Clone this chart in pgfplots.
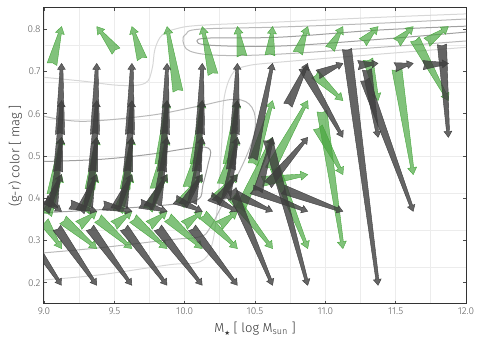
\documentclass[border=0pt]{standalone}
\usepackage{pgfplots}
\pgfplotsset{compat=1.18}
\usepackage{pgfplotstable}
\usepackage{fontspec}
\setmainfont{Fira Sans Light}
\newfontfamily\dejavu{DejaVu Sans}
\usetikzlibrary{decorations.markings}

\definecolor{arrgray}{RGB}{62,62,62}
\definecolor{arrgreen}{RGB}{70,165,60}
\definecolor{gridc}{RGB}{236,236,236}
\definecolor{ticklab}{RGB}{95,95,95}
\definecolor{ctA}{RGB}{160,160,160}
\definecolor{ctB}{RGB}{185,185,185}
\definecolor{ctC}{RGB}{215,215,215}

% tapered arrow: wide tail, thin neck, triangular head
\newcommand\wedgearrow[5]{%
  \pgfmathsetmacro\L{\pgfdecoratedpathlength}%
  \pgfmathsetmacro\H{min(#4,0.5*\L)}%
  \pgfmathsetmacro\N{\L-\H}%
  \fill[#5] (0pt,#1) -- (\N pt,#2) -- (\N pt,#3) -- (\L pt,0pt) -- (\N pt,-#3)
    -- (\N pt,-#2) -- (0pt,-#1) -- (1.5pt,0pt) -- cycle;%
}
\tikzset{
  graywedge/.style={draw=none, postaction={decorate, decoration={markings,
    mark=at position 0pt with {\wedgearrow{4.6pt}{1.5pt}{3.9pt}{6}{arrgray,fill opacity=0.8}}}}},
  greenwedge/.style={draw=none, postaction={decorate, decoration={markings,
    mark=at position 0pt with {\wedgearrow{5pt}{1.5pt}{4.5pt}{7}{arrgreen,fill opacity=0.68}}}}},
}

% tail (xt,yt) -> head (xh,yh)
\pgfplotstableread{
xt yt xh yh
9.057 0.717 9.125 0.806
9.512 0.748 9.375 0.806
9.697 0.729 9.625 0.806
9.952 0.653 9.875 0.806
10.201 0.693 10.125 0.806
10.407 0.736 10.375 0.806
10.606 0.738 10.625 0.806
10.805 0.743 10.875 0.806
11.033 0.753 11.125 0.806
11.267 0.769 11.375 0.806
11.509 0.769 11.625 0.806
11.722 0.769 11.875 0.806
9.824 0.480 9.875 0.631
10.073 0.480 10.125 0.631
10.308 0.480 10.375 0.631
10.485 0.480 10.625 0.631
10.606 0.468 10.875 0.631
10.926 0.693 11.125 0.631
11.303 0.729 11.375 0.631
11.637 0.776 11.875 0.631
9.057 0.409 9.125 0.544
9.327 0.421 9.375 0.544
9.576 0.421 9.625 0.544
9.789 0.421 9.875 0.544
10.023 0.425 10.125 0.544
10.265 0.432 10.375 0.544
10.393 0.373 10.625 0.544
9.021 0.361 9.125 0.456
9.284 0.368 9.375 0.456
9.526 0.368 9.625 0.456
9.739 0.373 9.875 0.456
9.967 0.385 10.125 0.456
10.215 0.397 10.375 0.456
10.549 0.440 10.875 0.456
10.947 0.568 11.125 0.456
11.509 0.705 11.625 0.456
9.247 0.336 9.375 0.369
9.497 0.336 9.625 0.369
9.747 0.336 9.875 0.369
9.997 0.336 10.125 0.369
10.247 0.336 10.375 0.369
9.000 0.345 9.125 0.281
9.135 0.349 9.375 0.281
9.384 0.352 9.625 0.281
9.633 0.352 9.875 0.281
9.881 0.354 10.125 0.281
10.130 0.361 10.375 0.281
10.336 0.404 10.625 0.281
10.642 0.473 10.875 0.281
10.976 0.606 11.125 0.281
}\greendata

\pgfplotstableread{
xt yt xh yh
9.114 0.551 9.125 0.719
9.362 0.551 9.375 0.719
9.611 0.551 9.625 0.719
9.860 0.551 9.875 0.719
10.109 0.551 10.125 0.719
10.357 0.551 10.375 0.719
10.485 0.492 10.625 0.719
10.734 0.620 10.875 0.719
10.947 0.693 11.125 0.719
11.232 0.715 11.375 0.719
11.495 0.710 11.625 0.719
11.694 0.715 11.875 0.719
9.100 0.463 9.125 0.631
9.348 0.463 9.375 0.631
9.597 0.463 9.625 0.631
9.839 0.463 9.875 0.631
10.087 0.463 10.125 0.631
10.329 0.468 10.375 0.631
9.064 0.378 9.125 0.544
9.313 0.378 9.375 0.544
9.561 0.378 9.625 0.544
9.803 0.383 9.875 0.544
10.052 0.387 10.125 0.544
10.294 0.397 10.375 0.544
10.521 0.416 10.625 0.544
10.592 0.432 10.875 0.544
10.841 0.710 11.125 0.544
11.296 0.705 11.375 0.544
11.829 0.764 11.875 0.544
9.007 0.368 9.125 0.456
9.256 0.368 9.375 0.456
9.505 0.373 9.625 0.456
9.739 0.378 9.875 0.456
9.988 0.383 10.125 0.456
10.222 0.390 10.375 0.456
9.007 0.397 9.125 0.369
9.185 0.385 9.375 0.369
9.419 0.383 9.625 0.369
9.682 0.387 9.875 0.369
9.931 0.397 10.125 0.369
10.180 0.404 10.375 0.369
10.357 0.409 10.625 0.369
10.478 0.421 10.875 0.369
10.699 0.421 11.125 0.369
11.281 0.681 11.625 0.369
8.851 0.330 9.125 0.194
9.092 0.330 9.375 0.194
9.327 0.330 9.625 0.194
9.569 0.330 9.875 0.194
9.810 0.330 10.125 0.194
10.052 0.330 10.375 0.194
10.336 0.421 10.625 0.194
10.592 0.539 10.875 0.194
11.154 0.753 11.375 0.194
}\graydata

\begin{document}
\begin{tikzpicture}
\begin{axis}[
  width=422pt, height=296pt, scale only axis,
  xmin=9, xmax=12, ymin=0.15, ymax=0.85,
  xtick={9,9.5,...,12}, ytick={0.2,0.3,...,0.8},
  minor xtick={9.25,9.75,...,11.75},
  minor ytick={0.2375,0.325,0.4125,0.5,0.5875,0.675,0.7625},
  xmajorgrids, xminorgrids, yminorgrids,
  major grid style={gridc, line width=0.8pt},
  minor grid style={gridc, line width=0.8pt},
  minor tick length=0pt, major tick length=3pt, tick align=inside,
  tick style={black!70, line width=0.8pt},
  axis line style={black!80, line width=1pt},
  /pgf/number format/assume math mode=true,
  xticklabel style={/pgf/number format/fixed, /pgf/number format/fixed zerofill, /pgf/number format/precision=1},
  yticklabel style={/pgf/number format/fixed, /pgf/number format/fixed zerofill, /pgf/number format/precision=1},
  ticklabel style={font=\fontsize{10}{11}\selectfont, text=ticklab},
  every axis x label/.style={at={(axis description cs:0.5,0)}, yshift=-25pt, anchor=center},
  every axis y label/.style={at={(axis description cs:-0.068,0.5)}, rotate=90, anchor=center},
  label style={font=\fontsize{13}{15}\selectfont, text=black!80},
  xlabel={M\raisebox{-0.35ex}{\dejavu\fontsize{6.5}{6.5}\selectfont ★}\ [ log M\textsubscript{sun} ]},
  ylabel={(g-r) color [ mag ]},
]
% density contours
\addplot[ctA, line width=1pt, smooth, tension=0.6] coordinates {
(12.0,0.807) (11.388,0.798) (10.677,0.781) (10.180,0.779) (10.087,0.772) (10.180,0.762) (10.677,0.760) (11.388,0.776) (12.0,0.793)};
\addplot[ctB, line width=1pt, smooth, tension=0.6] coordinates {
(12.0,0.824) (11.388,0.814) (10.677,0.805) (10.109,0.800) (10.009,0.788) (9.988,0.772) (10.038,0.748) (10.251,0.738) (10.677,0.741) (11.388,0.757) (12.0,0.772)};
\addplot[ctC, line width=1pt, smooth, tension=0.6] coordinates {
(9.0,0.686) (9.277,0.677) (9.540,0.667) (9.718,0.672) (9.768,0.705) (9.789,0.753) (9.839,0.786) (9.931,0.800) (10.109,0.809) (10.677,0.817) (11.388,0.828) (12.0,0.836)};
\addplot[ctC, line width=1pt, smooth, tension=0.6] coordinates {
(9.0,0.207) (9.398,0.219) (9.896,0.243) (10.109,0.250) (10.194,0.290) (10.237,0.397) (10.265,0.539) (10.279,0.634) (10.336,0.693) (10.429,0.712) (10.677,0.722) (11.388,0.741) (12.0,0.757)};
\addplot[ctB, line width=1pt, smooth, tension=0.6] coordinates {
(9.0,0.594) (9.277,0.582) (9.753,0.596) (10.087,0.617) (10.357,0.634) (10.478,0.615) (10.500,0.563) (10.429,0.492) (10.286,0.397) (10.180,0.330) (10.109,0.309) (9.896,0.302) (9.398,0.283) (9.0,0.271)};
\addplot[ctA, line width=1pt, smooth, tension=0.6] coordinates {
(9.0,0.487) (9.398,0.492) (9.753,0.504) (10.073,0.520) (10.180,0.515) (10.166,0.480) (10.130,0.432) (10.095,0.397) (9.896,0.385) (9.398,0.373) (9.0,0.366)};
% arrows
\addplot[quiver={u=\thisrow{xh}-\thisrow{xt}, v=\thisrow{yh}-\thisrow{yt},
  every arrow/.append style={greenwedge}}] table[x=xt, y=yt] {\greendata};
\addplot[quiver={u=\thisrow{xh}-\thisrow{xt}, v=\thisrow{yh}-\thisrow{yt},
  every arrow/.append style={graywedge}}] table[x=xt, y=yt] {\graydata};
\end{axis}
\pgfresetboundingbox
\path ([xshift=-44pt,yshift=-42pt]current axis.south west) rectangle ([xshift=19pt,yshift=8pt]current axis.north east);
\end{tikzpicture}
\end{document}
